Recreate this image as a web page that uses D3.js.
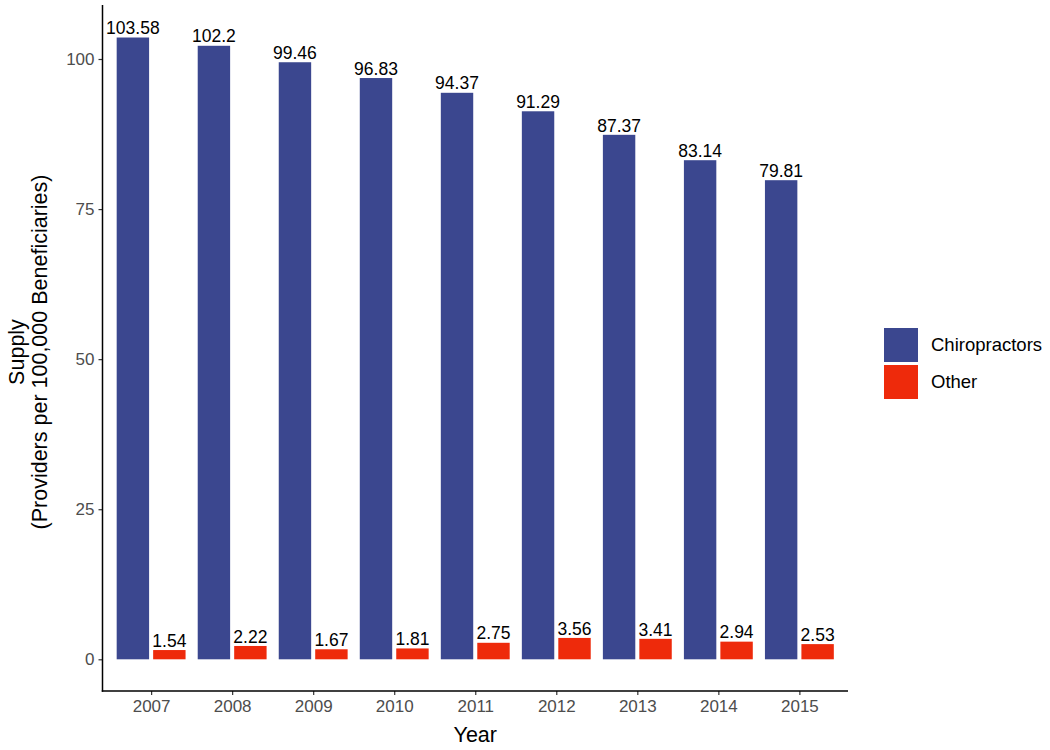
<!DOCTYPE html>
<html>
<head>
<meta charset="utf-8">
<script src="https://cdn.jsdelivr.net/npm/d3@7"></script>
<style>
  html, body { margin: 0; padding: 0; background: #ffffff; }
  svg { display: block; font-family: "Liberation Sans", Arial, Helvetica, sans-serif; }
</style>
</head>
<body>
<svg id="chart" width="1050" height="750"></svg>
<script>
// ---- data ----
const years = ["2007", "2008", "2009", "2010", "2011", "2012", "2013", "2014", "2015"];
const seriesNames = ["Chiropractors", "Other"];
const chiropractors = [103.58, 102.2, 99.46, 96.83, 94.37, 91.29, 87.37, 83.14, 79.81];
const other = [1.54, 2.22, 1.67, 1.81, 2.75, 3.56, 3.41, 2.94, 2.53];
const yTicks = [0, 25, 50, 75, 100];
const colors = ["#3b478f", "#ee2a0b"];

const seriesValues = [chiropractors, other];

// ---- layout ----
const svg = d3.select("#chart");
const panel = { left: 102.5, right: 848, top: 5, bottom: 691 };

const x = d3.scalePoint().domain(years).range([panel.left, panel.right]).padding(0.6);
const step = x.step();
const sub = d3.scaleBand().domain(seriesNames).range([-0.45 * step, 0.45 * step]).padding(0);
const barW = 0.4 * step;

const y = d3.scaleLinear().domain([0, 100]).range([659.3, 59]);

// ---- bars ----
const rows = [];
seriesNames.forEach((s, si) => {
  years.forEach((yr, i) => rows.push({ series: s, si, year: yr, value: seriesValues[si][i] }));
});

const g = svg.append("g");
g.selectAll("rect.bar")
  .data(rows)
  .join("rect")
  .attr("class", "bar")
  .attr("x", d => x(d.year) + sub(d.series) + sub.bandwidth() / 2 - barW / 2)
  .attr("width", barW)
  .attr("y", d => y(d.value))
  .attr("height", d => y(0) - y(d.value))
  .attr("fill", d => colors[d.si]);

g.selectAll("text.val")
  .data(rows)
  .join("text")
  .attr("class", "val")
  .attr("x", d => x(d.year) + sub(d.series) + sub.bandwidth() / 2)
  .attr("y", d => y(d.value) - 3.3)
  .attr("text-anchor", "middle")
  .attr("font-size", 17.5)
  .attr("fill", "#000")
  .text(d => String(d.value));

// ---- axes ----
const yAxis = d3.axisLeft(y).tickValues(yTicks).tickSize(4).tickPadding(4);
const yg = svg.append("g").attr("transform", `translate(${panel.left},0)`).call(yAxis);
yg.select(".domain").remove();
yg.selectAll(".tick line").attr("stroke", "#333").attr("stroke-width", 1.2);
yg.selectAll(".tick text").attr("font-size", 17).attr("fill", "#4d4d4d").attr("font-family", "Liberation Sans, Arial, sans-serif");

const xAxis = d3.axisBottom(x).tickSize(4).tickPadding(5);
const xg = svg.append("g").attr("transform", `translate(0,${panel.bottom})`).call(xAxis);
xg.select(".domain").remove();
xg.selectAll(".tick line").attr("stroke", "#333").attr("stroke-width", 1.2);
xg.selectAll(".tick text").attr("font-size", 17).attr("fill", "#4d4d4d").attr("font-family", "Liberation Sans, Arial, sans-serif");

// axis lines
svg.append("line").attr("x1", panel.left).attr("x2", panel.left).attr("y1", panel.top).attr("y2", panel.bottom + 0.75)
  .attr("stroke", "#000").attr("stroke-width", 1.5);
svg.append("line").attr("x1", panel.left - 0.75).attr("x2", panel.right).attr("y1", panel.bottom).attr("y2", panel.bottom)
  .attr("stroke", "#000").attr("stroke-width", 1.5);

// axis titles
svg.append("text")
  .attr("x", (panel.left + panel.right) / 2)
  .attr("y", 742)
  .attr("text-anchor", "middle")
  .attr("font-size", 21.5)
  .attr("fill", "#000")
  .text("Year");

const yTitle = svg.append("text")
  .attr("transform", `translate(24, ${(panel.top + panel.bottom) / 2 + 4}) rotate(-90)`)
  .attr("text-anchor", "middle")
  .attr("font-size", 21.5)
  .attr("fill", "#000");
yTitle.append("tspan").attr("x", 0).attr("dy", 0).text("Supply");
yTitle.append("tspan").attr("x", 0).attr("dy", 23).text("(Providers per 100,000 Beneficiaries)");

// ---- legend ----
const legend = svg.append("g").attr("transform", "translate(884,328)");
seriesNames.forEach((s, i) => {
  const lg = legend.append("g").attr("transform", `translate(0,${i * 37})`);
  lg.append("rect").attr("width", 34).attr("height", 34).attr("fill", colors[i]);
  lg.append("text").attr("x", 47).attr("y", 17).attr("dy", "0.35em")
    .attr("font-size", 18.5).attr("fill", "#000").text(s);
});
</script>
</body>
</html>
